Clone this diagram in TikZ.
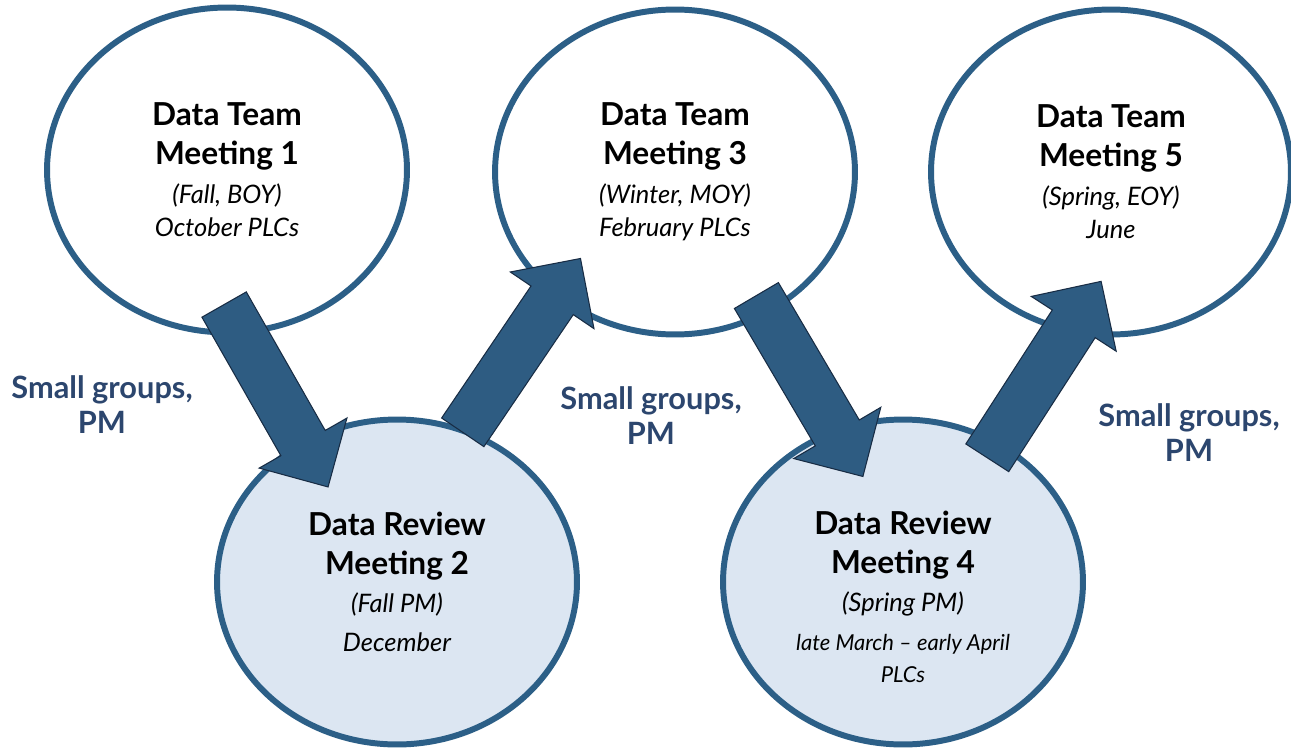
\documentclass[tikz,border=0pt]{standalone}
\usepackage{fontspec}
\setmainfont{Lato}
\usetikzlibrary{shapes.geometric, shapes.arrows, positioning, calc}

\definecolor{ringblue}{RGB}{44,95,135}
\definecolor{flowfill}{RGB}{46,92,130}
\definecolor{flowline}{RGB}{24,44,68}
\definecolor{reviewfill}{RGB}{220,230,242}
\definecolor{notenavy}{RGB}{44,70,110}

\newcommand{\mtitle}[1]{{\bfseries #1}}
\newcommand{\mwhen}[1]{{\itshape\fontsize{14.5}{21}\selectfont #1}}
\newcommand{\msmall}[1]{{\itshape\fontsize{12.5}{16}\selectfont #1}}

\begin{document}
\begin{tikzpicture}[x=0.02cm, y=-0.02cm,
		meet/.style={ellipse, draw=ringblue, line width=3.4pt, fill=white, minimum width=7.2cm, minimum height=6.5cm, inner sep=0pt, align=center, font=\fontsize{18}{22}\selectfont},
		review/.style={meet, fill=reviewfill},
		flow/.style={single arrow, draw=flowline, fill=flowfill, line width=0.6pt, minimum height=4.2cm, minimum width=2cm, single arrow head extend=0.5cm, inner xsep=0pt, inner ysep=0.5cm},
		note/.style={align=center, text=notenavy, font=\bfseries\fontsize{17.5}{20}\selectfont}]
		\useasboundingbox (0,0) rectangle (1291,750);
		\node[meet] (m1) at (227,170) {\mtitle{Data Team}\\\mtitle{Meeting 1}\\\mwhen{(Fall, BOY)}\\[-3pt]\mwhen{October PLCs}};
		\node[meet] (m3) at (675,172) {\mtitle{Data Team}\\\mtitle{Meeting 3}\\\mwhen{(Winter, MOY)}\\[-3pt]\mwhen{February PLCs}};
		\node[meet] (m5) at (1111,172) {\mtitle{Data Team}\\\mtitle{Meeting 5}\\\mwhen{(Spring, EOY)}\\[-3pt]\mwhen{June}};
		\node[review] (m2) at (397,582) {\mtitle{Data Review}\\\mtitle{Meeting 2}\\\mwhen{(Fall PM)}\\\mwhen{December}};
		\node[review] (m4) at (903,582) {\rule{0pt}{30pt}\mtitle{Data Review}\\\mtitle{Meeting 4}\\\mwhen{(Spring PM)}\\\msmall{late March -- early April}\\[-4pt]\msmall{PLCs}};
		\path (m1.275) -- (m2.124) node[flow, sloped, pos=.47] (a1) {};
		\path (m2.66) -- (m3.226) node[flow, sloped, pos=.55] (a2) {};
		\path (m3.303) -- (m4.114) node[flow, sloped, pos=.53] (a3) {};
		\path (m4.56) -- (m5.255) node[flow, sloped, pos=.56] (a4) {};
		\node[note] (sg1) at (102,405) {Small groups,\\PM};
		\node[note] (sg2) at (651,416) {Small groups,\\PM};
		\node[note] (sg3) at (1189,433) {Small groups,\\PM};
	\end{tikzpicture}
\end{document}
